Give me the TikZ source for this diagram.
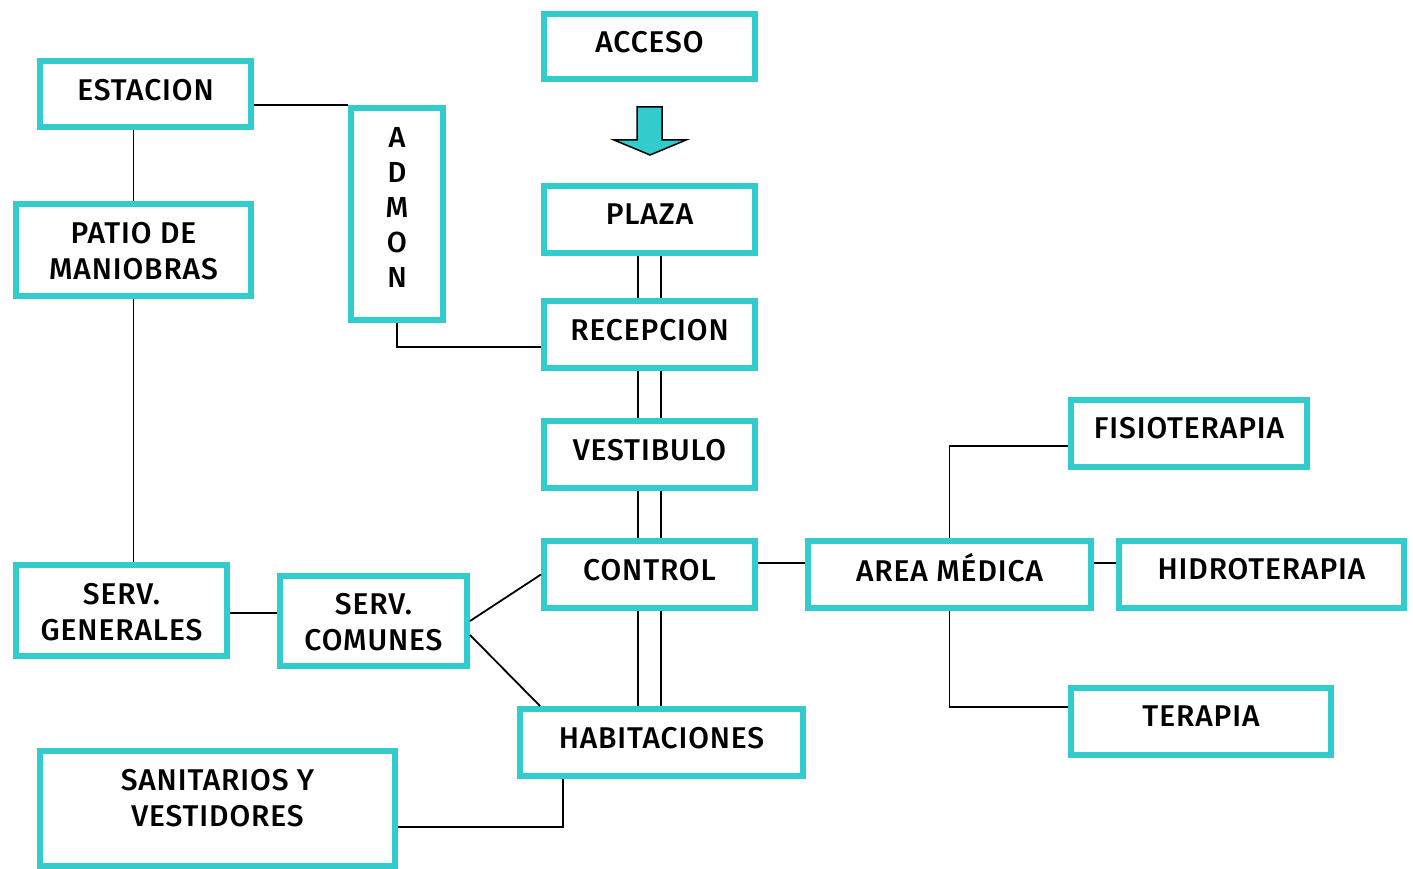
\documentclass[tikz,border=0pt]{standalone}
\usepackage{fontspec}
\setmainfont{Fira Sans}[UprightFont={* Medium}, LetterSpace=3]
\usetikzlibrary{calc}
\definecolor{boxcyan}{RGB}{51,204,204}
\tikzset{
  box/.style={draw=boxcyan, line width=6pt, inner sep=0pt, rectangle},
  lbl/.style={inner sep=0pt, align=center, font=\fontsize{30}{36}\selectfont},
  conn/.style={draw=black, line width=1.8pt},
}
\begin{document}
\begin{tikzpicture}[x=1pt,y=-1pt]
\useasboundingbox (0,0) rectangle (1413,869);
% boxes
\node[box, minimum width=211pt, minimum height=65pt] (acc) at (649.5,46.5) {};
\node[box, minimum width=211pt, minimum height=66pt] (est) at (145.5,94) {};
\node[box, minimum width=92pt, minimum height=212pt] (adm) at (397,214) {};
\node[box, minimum width=211pt, minimum height=67pt] (pla) at (649.5,219.5) {};
\node[box, minimum width=235pt, minimum height=92pt] (pat) at (133.5,250) {};
\node[box, minimum width=211pt, minimum height=67pt] (rec) at (649.5,334.5) {};
\node[box, minimum width=211pt, minimum height=67pt] (ves) at (649.5,454.5) {};
\node[box, minimum width=236pt, minimum height=67pt] (fis) at (1189,433.5) {};
\node[box, minimum width=211pt, minimum height=67pt] (ctl) at (649.5,574.5) {};
\node[box, minimum width=283pt, minimum height=67pt] (are) at (949.5,574.5) {};
\node[box, minimum width=285pt, minimum height=67pt] (hid) at (1261.5,574.5) {};
\node[box, minimum width=211pt, minimum height=91pt] (sge) at (121.5,610.5) {};
\node[box, minimum width=187pt, minimum height=90pt] (sco) at (373.5,621) {};
\node[box, minimum width=283pt, minimum height=67pt] (hab) at (661.5,742.5) {};
\node[box, minimum width=260pt, minimum height=67pt] (ter) at (1201,721.5) {};
\node[box, minimum width=355pt, minimum height=115pt] (san) at (217.5,808) {};
% labels
\node[lbl] (accT) at ($(acc)+(0,-4.5)$) {ACCESO};
\node[lbl] (estT) at ($(est)+(0,-4)$) {ESTACION};
\node[lbl, font=\fontsize{29}{35}\selectfont] (admT) at ($(adm)+(0,-6.5)$) {A\\D\\M\\O\\N};
\node[lbl] (plaT) at ($(pla)+(0,-5)$) {PLAZA};
\node[lbl] (patT) at ($(pat)+(0,1)$) {PATIO DE\\MANIOBRAS};
\node[lbl] (recT) at ($(rec)+(0,-4.5)$) {RECEPCION};
\node[lbl] (vesT) at ($(ves)+(0,-4.5)$) {VESTIBULO};
\node[lbl] (fisT) at ($(fis)+(0,-5)$) {FISIOTERAPIA};
\node[lbl] (ctlT) at ($(ctl)+(0,-4.5)$) {CONTROL};
\node[lbl] (areT) at ($(are)+(0,-6.5)$) {AREA MÉDICA};
\node[lbl] (hidT) at ($(hid)+(0,-5)$) {HIDROTERAPIA};
\node[lbl] (sgeT) at ($(sge)+(0,1.5)$) {SERV.\\GENERALES};
\node[lbl] (scoT) at ($(sco)+(0,1.5)$) {SERV.\\COMUNES};
\node[lbl] (habT) at ($(hab)+(0,-4.5)$) {HABITACIONES};
\node[lbl] (terT) at ($(ter)+(0,-5)$) {TERAPIA};
\node[lbl] (sanT) at ($(san)+(0,-10)$) {SANITARIOS Y\\VESTIDORES};
% block arrow
\draw[fill=boxcyan, draw=black, line width=1.5pt, line join=miter]
  (637,107) -- (662,107) -- (662,140) -- (686,140) -- (650,155) -- (614,140) -- (637,140) -- cycle;
% connectors
\draw[conn] (est.east |- adm.north) -- (adm.north west);
\draw[conn] (pat.north |- est.south) -- (pat.north);
\draw[conn] (pat.south) -- (pat.south |- sge.north);
\coordinate (recw) at ($(rec.west)+(0,12.5)$);
\draw[conn] (adm.south) |- (recw);
\foreach \s in {-11.5,11.5}{
  \draw[conn] ([xshift=\s pt]pla.south) -- ([xshift=\s pt]rec.north);
  \draw[conn] ([xshift=\s pt]rec.south) -- ([xshift=\s pt]ves.north);
  \draw[conn] ([xshift=\s pt]ves.south) -- ([xshift=\s pt]ctl.north);
  \draw[conn] ([xshift=\s pt]ctl.south) -- ([xshift=\s pt]ctl.south |- hab.north);
}
\coordinate (ctle) at ($(ctl.east)+(0,-11.5)$);
\draw[conn] (ctle) -- (ctle -| are.west);
\coordinate (fisw) at ($(fis.west)+(0,12.5)$);
\draw[conn] (are.north) |- (fisw);
\coordinate (aree) at ($(are.east)+(0,-11.5)$);
\draw[conn] (aree) -- (aree -| hid.west);
\coordinate (terw) at ($(ter.west)+(0,-14.5)$);
\draw[conn] (are.south) |- (terw);
\coordinate (sgee) at ($(sge.east)+(0,2.5)$);
\draw[conn] (sgee) -- (sgee -| sco.west);
\draw[conn] (sco.east) -- (ctl.west);
\coordinate (scoe) at ($(sco.east)+(0,14)$);
\coordinate (habn) at ($(hab.north west)+(23,0)$);
\draw[conn] (scoe) -- (habn);
\coordinate (habs) at ($(hab.south west)+(46,0)$);
\coordinate (sane) at ($(san.east)+(0,19)$);
\draw[conn] (habs) |- (sane);
\end{tikzpicture}
\end{document}
